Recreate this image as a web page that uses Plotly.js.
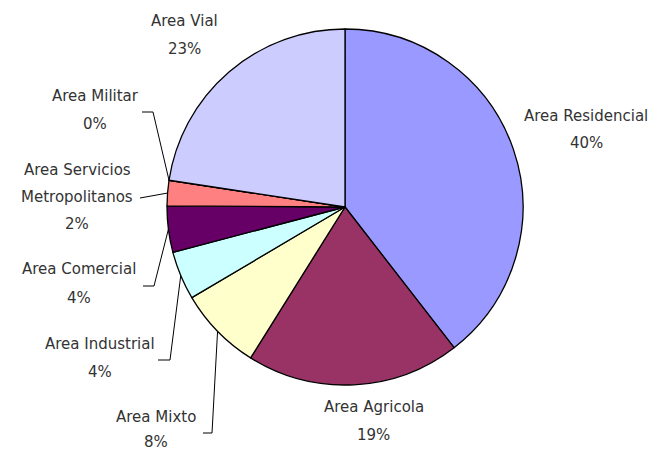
<!DOCTYPE html>
<html>
<head>
<meta charset="utf-8">
<script src="https://cdn.plot.ly/plotly-3.0.1.min.js"></script>
<style>body{margin:0;background:#fff}#plotArea{width:656px;height:450px}</style>
</head>
<body>
<div id="plotArea"></div>
<script>
// slices, clockwise from 12 o'clock
var labels = ["Area Residencial", "Area Agricola", "Area Mixto", "Area Industrial",
    "Area Comercial", "Area Servicios Metropolitanos", "Area Militar", "Area Vial"];
var values = [39.5, 19.4, 7.6, 4.4, 4.2, 2.3, 0, 22.6];
var colors = ["#9999FF", "#993366", "#FFFFCC", "#CCFFFF", "#660066", "#FF8080", "#0066CC", "#CCCCFF"];

var W = 656, H = 450;
var cx = 345, cy = 207, R = 178;

// label text lines (name lines + percent) and where each line sits, in pixels
var labelLines = [
    ["Area Residencial"], ["Area Agricola"], ["Area Mixto"], ["Area Industrial"],
    ["Area Comercial"], ["Area Servicios", "Metropolitanos"], ["Area Militar"], ["Area Vial"]
];
var labelPos = [
    {x: 586, y: [116, 143]},
    {x: 374, y: [407, 435]},
    {x: 156, y: [417, 442]},
    {x: 100, y: [344, 372]},
    {x: 79,  y: [269, 298]},
    {x: 77,  y: [170, 197, 224]},
    {x: 95,  y: [96, 124]},
    {x: 184, y: [21, 49]}
];
// leader lines: horizontal tick start and elbow, null = no leader
var leaders = [null, null,
    [[203, 433], [212, 433]],
    [[158, 360], [170, 360]],
    [[143, 286], [154, 286]],
    [[140, 198]],
    [[142, 112], [153, 112]],
    null];

function px(x) { return x / W; }
function py(y) { return 1 - y / H; }

var total = values.reduce(function (a, b) { return a + b; }, 0);
var pct = values.map(function (v) { return Math.round(v / total * 100) + "%"; });

var annotations = [];
var shapes = [];
var cum = 0;
values.forEach(function (v, i) {
    var mid = (cum + v / 2) / total * 2 * Math.PI;
    cum += v;
    var lines = labelLines[i].concat([pct[i]]);
    lines.forEach(function (t, k) {
        annotations.push({
            text: t, xref: "paper", yref: "paper",
            x: px(labelPos[i].x), y: py(labelPos[i].y[k]),
            xanchor: "center", yanchor: "middle", showarrow: false,
            font: {family: "DejaVu Sans", size: 15, color: "#333"}
        });
    });
    if (leaders[i]) {
        var pts = leaders[i].concat([[cx + R * Math.sin(mid), cy - R * Math.cos(mid)]]);
        for (var k = 0; k < pts.length - 1; k++) {
            shapes.push({
                type: "line", xref: "paper", yref: "paper",
                x0: px(pts[k][0]), y0: py(pts[k][1]),
                x1: px(pts[k + 1][0]), y1: py(pts[k + 1][1]),
                line: {color: "#000", width: 1}
            });
        }
    }
});

var trace = {
    type: "pie",
    labels: labels,
    values: values,
    sort: false,
    direction: "clockwise",
    rotation: 0,
    textinfo: "none",
    hoverinfo: "none",
    marker: {colors: colors, line: {color: "#000", width: 1.3}},
    domain: {x: [(cx - R) / W, (cx + R) / W], y: [1 - (cy + R) / H, 1 - (cy - R) / H]}
};

var layout = {
    width: W, height: H,
    margin: {l: 0, r: 0, t: 0, b: 0},
    showlegend: false,
    paper_bgcolor: "#fff",
    annotations: annotations,
    shapes: shapes
};

Plotly.newPlot("plotArea", [trace], layout, {staticPlot: true});
</script>
</body>
</html>
